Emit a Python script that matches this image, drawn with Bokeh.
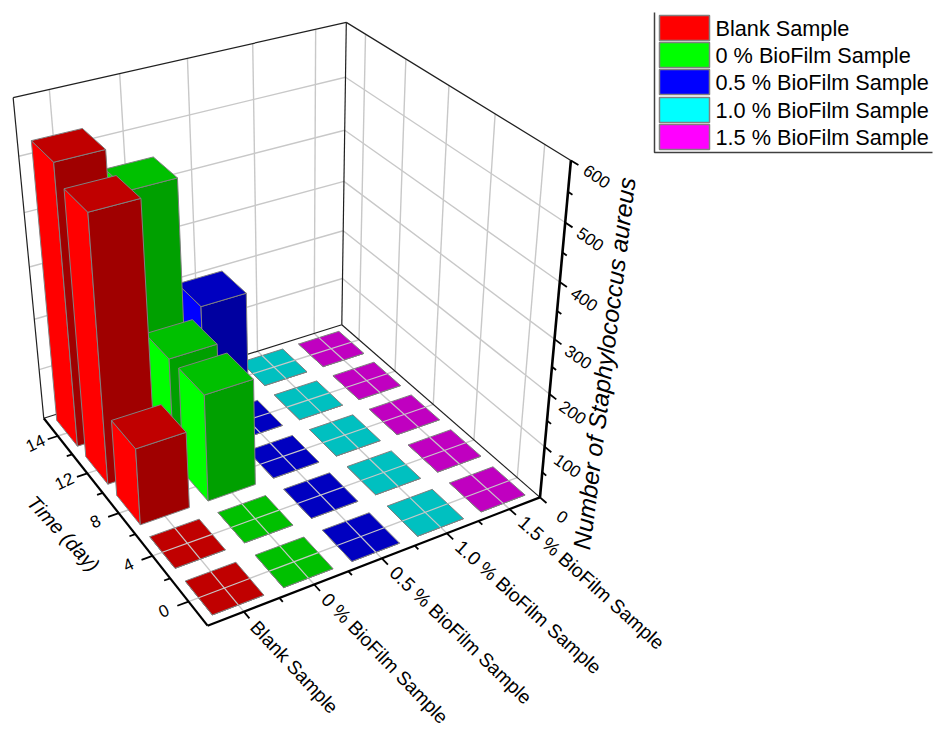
import numpy as np
from bokeh.plotting import figure
from bokeh.models import Range1d, ColumnDataSource
from bokeh.core.properties import value
from bokeh.embed import file_html
from bokeh.resources import INLINE

series = ["Blank Sample", "0 % BioFilm Sample", "0.5 % BioFilm Sample", "1.0 % BioFilm Sample", "1.5 % BioFilm Sample"]
time_labels = ["0", "4", "8", "12", "14"]
blank = [0, 0, 147, 500, 530]
biofilm_0 = [0, 0, 205, 203, 450]
biofilm_05 = [0, 0, 0, 0, 200]
biofilm_10 = [0, 0, 0, 0, 0]
biofilm_15 = [0, 0, 0, 0, 0]
values = [blank, biofilm_0, biofilm_05, biofilm_10, biofilm_15]
z_ticks = [0, 100, 200, 300, 400, 500, 600]
z_max = 600
bright = ["#FF0000", "#00FF00", "#0000FF", "#00FFFF", "#FF00FF"]
top_col = ["#C00000", "#00C000", "#0000C0", "#00C0C0", "#C000C0"]
side_col = ["#A00000", "#00A000", "#0000A0", "#00A0A0", "#A000A0"]
cat_angles = [-47, -46, -44, -42, -42]

# camera: box corners (u, v, w) and where they land on the page
corners = [((0,0,0),(207,625)), ((1,0,0),(539,497)), ((0,1,0),(43,418)), ((1,1,0),(342,324)),
           ((0,1,1),(13,97)), ((1,1,1),(345,22)), ((1,0,1),(571,160))]
A = []
for (u,v,w),(x,y) in corners:
    A.append([u,v,w,1,0,0,0,0,-x*u,-x*v,-x*w,-x])
    A.append([0,0,0,0,u,v,w,1,-y*u,-y*v,-y*w,-y])
P = np.linalg.svd(np.array(A,float))[2][-1].reshape(3,4)

def proj(u,v,w=0.0):
    h = P @ np.array([u,v,w,1.0])
    return float(h[0]/h[2]), float(h[1]/h[2])

def seg(a,b):
    pa,pb = proj(*a),proj(*b)
    return [pa[0],pb[0]],[pa[1],pb[1]]

p = figure(width=933, height=730, x_range=Range1d(0,933), y_range=Range1d(730,0),
           output_backend="svg", toolbar_location=None, min_border=0, outline_line_color=None)
p.axis.visible = False
p.grid.visible = False

n_c, n_t = len(series), len(time_labels)
uc = [(i+.5)/n_c for i in range(n_c)]
vc = [(j+.5)/n_t for j in range(n_t)]
GRID = "#C8C8C8"

def lines(segs, color, width):
    xs,ys = zip(*[seg(a,b) for a,b in segs])
    p.multi_line(list(xs),list(ys),line_color=color,line_width=width)

g = []
for t in z_ticks[1:-1]:
    w = t/z_max
    g += [((0,1,w),(1,1,w)), ((1,1,w),(1,0,w))]
for u in uc:
    g += [((u,1,0),(u,1,1)), ((u,0,0),(u,1,0))]
for v in vc:
    g += [((1,v,0),(1,v,1)), ((0,v,0),(1,v,0))]
lines(g, GRID, 1.4)

lines([((0,1,0),(0,1,1)), ((0,1,1),(1,1,1)), ((1,1,1),(1,0,1)), ((1,1,0),(1,1,1)), ((0,1,0),(1,1,0)), ((1,1,0),(1,0,0))], "#202020", 1.2)

# bars, far to near
BU, BV = 0.72, 0.72
for j in range(n_t-1,-1,-1):
    for i in range(n_c-1,-1,-1):
        h = values[i][j]/z_max
        u0,u1 = (i+.5-BU/2)/n_c,(i+.5+BU/2)/n_c
        v0,v1 = (j+.5-BV/2)/n_t,(j+.5+BV/2)/n_t
        faces = [[(u0,v1,0),(u0,v0,0),(u0,v0,h),(u0,v1,h)],
                 [(u0,v0,0),(u1,v0,0),(u1,v0,h),(u0,v0,h)],
                 [(u0,v0,h),(u1,v0,h),(u1,v1,h),(u0,v1,h)]]
        xs,ys = [],[]
        for f in faces:
            pts=[proj(*q) for q in f]
            xs.append([q[0] for q in pts]); ys.append([q[1] for q in pts])
        src = ColumnDataSource(dict(xs=xs,ys=ys,fc=[bright[i],side_col[i],top_col[i]]))
        p.patches("xs","ys",source=src,fill_color="fc",line_color="#808080",line_width=1)
        if h==0:
            cx = (i+.5)/n_c; cy=(j+.5)/n_t
            lines([((u0,cy,0),(u1,cy,0)),((cx,v0,0),(cx,v1,0))],GRID,1.2)

# axes
lines([((0,0,0),(1,0,0)),((0,0,0),(0,1,0))],"#000000",2.2)
lines([((1,0,0),(1,0,1))],"#000000",2.6)
TK = 0.028
ticks=[]
for k in range(2*n_c-1):
    u=(k+1)/(2*n_c)
    ticks.append(((u,0,0),(u,-(TK if k%2==0 else TK*.6),0)))
for k in range(2*n_t-1):
    v=(k+1)/(2*n_t)
    ticks.append(((0,v,0),(-(TK*1.1 if k%2==0 else TK*.6),v,0)))
for k in range(2*len(z_ticks)-1):
    w=k/(2*(len(z_ticks)-1))
    ticks.append(((1,0,w),(1,-(TK if k%2==0 else TK*.6),w)))
lines(ticks,"#000000",1.8)

FONT = value("Liberation Sans")
for i,s in enumerate(series):
    x,y=proj(uc[i],-0.05)
    p.text([x],[y],text=[s],angle=[np.radians(cat_angles[i])],text_font=FONT,text_font_size="19.2px",
           text_align="left",text_baseline="middle",text_color="#000000")
for j,s in enumerate(time_labels):
    x,y=proj(-0.068,vc[j])
    p.text([x],[y],text=[s],angle=[np.radians(25)],text_font=FONT,text_font_size="17px",
           text_align="center",text_baseline="middle",text_color="#000000")
for t in z_ticks:
    x,y=proj(1,-0.095,t/z_max)
    p.text([x],[y],text=[str(t)],angle=[np.radians(-35)],text_font=FONT,text_font_size="17px",
           text_align="center",text_baseline="middle",text_color="#000000")
p.text([63],[533],text=["Time (day)"],angle=[np.radians(-47)],text_font=FONT,text_font_style="italic",text_font_size="20px",
       text_align="center",text_baseline="middle",text_color="#000000")
p.text([604],[363],text=["Number of Staphylococcus aureus"],angle=[np.radians(83)],text_font=FONT,text_font_style="italic",text_font_size="24.5px",
       text_align="center",text_baseline="middle",text_color="#000000")

# legend
legend_top = [15, 42, 69, 97, 124]
legend_bottom = [40, 67, 94, 122, 149]
p.line([654,654,932],[12,152,152],line_color="#404040",line_width=1.5)
p.quad(left=659,right=709,top=legend_top,bottom=legend_bottom,fill_color=bright,line_color="#808080",line_width=1.5)
p.text([715]*5,[(a+b)/2 for a,b in zip(legend_top,legend_bottom)],text=series,text_font=FONT,text_font_size="21.7px",
       text_align="left",text_baseline="middle",text_color="#000000")

open("out.html","w").write(file_html(p,INLINE))
